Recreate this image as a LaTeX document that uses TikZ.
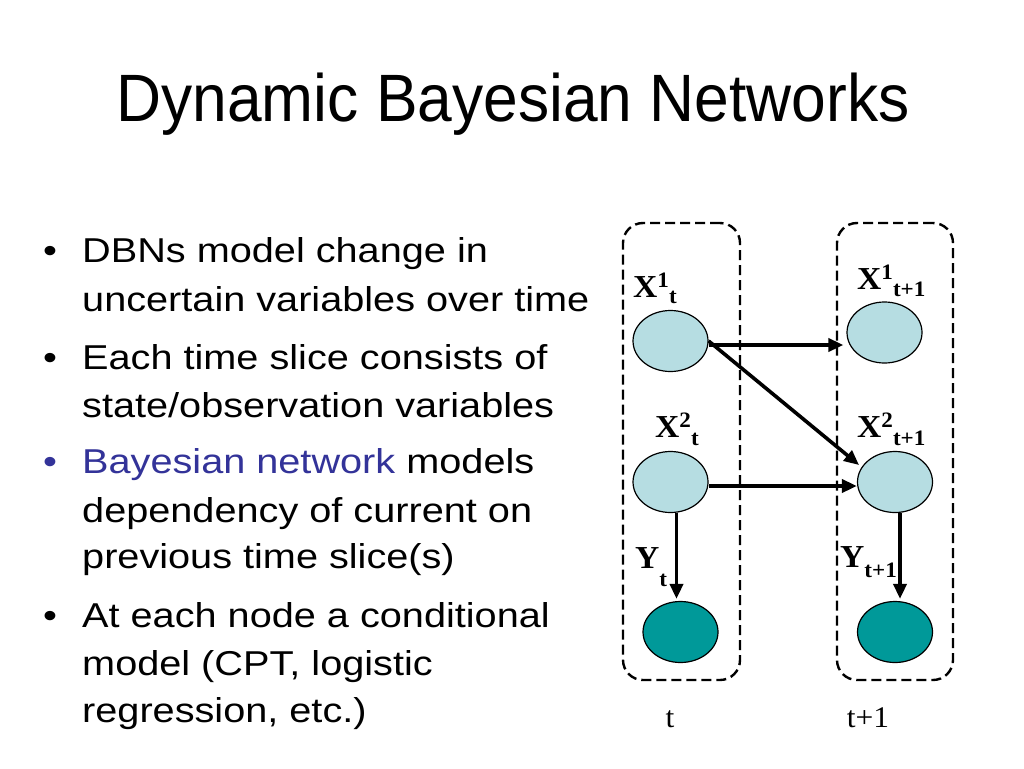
\documentclass[tikz,border=0pt]{standalone}
\usepackage{fontspec}
\setmainfont{Liberation Serif}
\newfontfamily\bodyf{Liberation Sans}[FakeStretch=1.15]
\newfontfamily\titlef{Liberation Sans}[FakeStretch=0.93]
\newfontfamily\labf{Liberation Serif}[FakeStretch=1.05]
\usetikzlibrary{arrows.meta,shapes.geometric}
\definecolor{bnblue}{RGB}{51,51,153}
\definecolor{lightnode}{RGB}{182,221,226}
\definecolor{tealnode}{RGB}{0,153,153}
\newcommand{\smallfs}{\fontsize{22}{22}\selectfont}
\newcommand{\vlab}[5]{#1\raisebox{#4}{\smallfs #2}\raisebox{#5}{\smallfs #3}}
\begin{document}
\begin{tikzpicture}[x=1pt,y=-1pt,
  txtline/.style={anchor=base west, inner sep=0pt, font=\bodyf\fontsize{34.5}{41}\selectfont},
  bul/.style={anchor=base west, inner sep=0pt, font=\bodyf\fontsize{34.5}{41}\selectfont},
  slice/.style={draw, line width=2.4pt, dash pattern=on 10pt off 5pt, rounded corners=20pt, inner sep=0pt},
  ell/.style={ellipse, draw, line width=1.2pt, inner sep=0pt, minimum width=75pt, minimum height=61pt},
  lab/.style={anchor=base west, inner sep=0pt, font=\labf\bfseries\fontsize{32}{32}\selectfont},
  tlab/.style={anchor=base, inner sep=0pt, font=\labf\fontsize{30}{30}\selectfont},
  arr/.style={line width=3.6pt, -{Triangle[length=15pt,width=13pt]}}]
\useasboundingbox (0,0) rectangle (1024,768);
\fill[white] (0,0) rectangle (1024,768);

% title
\node[anchor=base, inner sep=0pt, font=\titlef\fontsize{67}{67}\selectfont] (title) at (513,121.7) {Dynamic Bayesian Networks};

% bullets
\node[bul] (b1) at (43,262) {\textbullet};
\node[bul] (b2) at (43,369) {\textbullet};
\node[bul, text=bnblue] (b3) at (43,473) {\textbullet};
\node[bul] (b4) at (43,627) {\textbullet};
\node[txtline] (l1) at (82,262) {DBNs model change in};
\node[txtline] (l2) at (82,311) {uncertain variables over time};
\node[txtline] (l3) at (82,369) {Each time slice consists of};
\node[txtline] (l4) at (82,417) {state/observation variables};
\node[txtline] (l5) at (82,473) {{\color{bnblue}Bayesian network} models};
\node[txtline] (l6) at (82,522) {dependency of current on};
\node[txtline] (l7) at (82,568) {previous time slice(s)};
\node[txtline] (l8) at (82,627) {At each node a conditional};
\node[txtline] (l9) at (82,675) {model (CPT, logistic};
\node[txtline] (l10) at (82,722) {regression, etc.)};

% time slices
\node[slice, minimum width=117pt, minimum height=457pt] (s1) at (681.5,451.5) {};
\node[slice, minimum width=116pt, minimum height=457pt] (s2) at (895,451.5) {};

% variables
\node[ell, fill=lightnode] (x1t) at (670.5,341) {};
\node[ell, fill=lightnode] (x1n) at (884.5,332.5) {};
\node[ell, fill=lightnode] (x2t) at (670.5,482) {};
\node[ell, fill=lightnode] (x2n) at (895,482) {};
\node[ell, fill=tealnode] (yt) at (680.5,632) {};
\node[ell, fill=tealnode] (yn) at (895,632) {};

% labels
\node[lab] (lx1t) at (633,297) {\vlab{X}{1}{t}{10pt}{-6pt}};
\node[lab] (lx1n) at (857,289) {\vlab{X}{1}{t+1}{10pt}{-7pt}};
\node[lab] (lx2t) at (655,437) {\vlab{X}{2}{t}{10pt}{-8pt}};
\node[lab] (lx2n) at (857,437) {\vlab{X}{2}{t+1}{10pt}{-8pt}};
\node[lab] (lyt) at (635,568) {\vlab{Y}{}{t}{0pt}{-18pt}};
\node[lab] (lyn) at (840,567) {\vlab{Y}{}{t+1}{0pt}{-10pt}};

\node[tlab] (tt) at (670,727) {t};
\node[tlab] (tn) at (868,727) {t+1};

% arrows
\draw[arr] ([yshift=-4pt]x1t.east) -- ([yshift=-4pt,xshift=-3pt]x1t.east -| x1n.west);
\draw[arr] (x1t.east) -- ([xshift=-9pt,yshift=-5pt]x2n.north west);
\draw[arr] ([yshift=-4pt]x2t.east) -- ([yshift=-4pt]x2t.east -| x2n.west);
\draw[arr] ([xshift=6pt]x2t.south) -- ([xshift=6pt,yshift=2pt]x2t.south |- yt.north);
\draw[arr] ([xshift=5pt]x2n.south) -- ([xshift=5pt,yshift=2pt]x2n.south |- yn.north);
\end{tikzpicture}
\end{document}
